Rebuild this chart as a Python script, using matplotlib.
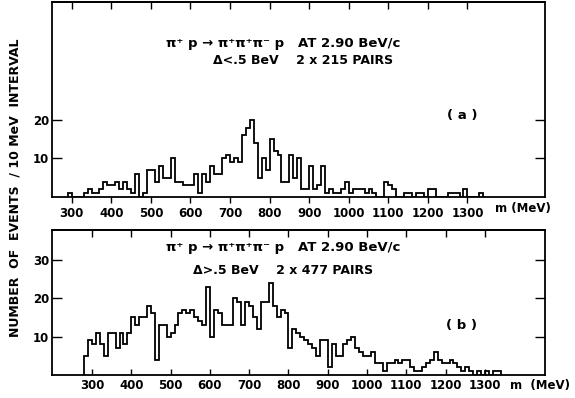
import numpy as np
import matplotlib.pyplot as plt

# counts per 10 MeV bin
bin_width = 10

a_start = 290
a_counts = [1, 0, 0, 0, 1, 2, 1, 1, 2, 4,
            3, 3, 4, 2, 4, 2, 1, 6, 0, 1,
            7, 7, 4, 8, 5, 5, 10, 4, 4, 3,
            3, 3, 6, 1, 6, 4, 8, 6, 6, 10,
            11, 9, 10, 9, 16, 18, 20, 14, 5, 10,
            7, 15, 12, 11, 4, 4, 11, 5, 10, 2,
            2, 8, 2, 3, 8, 1, 2, 1, 1, 2,
            4, 1, 2, 2, 2, 1, 2, 1, 0, 0,
            4, 3, 2, 0, 0, 1, 1, 0, 1, 1,
            0, 2, 2, 0, 0, 0, 1, 1, 1, 0,
            2, 0, 0, 0, 1]

b_start = 280
b_counts = [5, 9, 8, 11, 8, 5, 11, 11, 7, 11,
            8, 11, 15, 13, 15, 15, 18, 16, 4, 13,
            13, 10, 11, 13, 16, 17, 16, 17, 15, 14,
            13, 23, 10, 17, 16, 13, 13, 13, 20, 19,
            13, 19, 18, 15, 12, 19, 19, 24, 18, 15,
            17, 16, 7, 12, 11, 10, 9, 8, 7, 5,
            9, 9, 2, 8, 5, 5, 8, 9, 10, 7,
            6, 5, 5, 6, 3, 3, 1, 3, 3, 4,
            3, 4, 4, 2, 1, 1, 2, 3, 4, 6,
            4, 3, 3, 4, 3, 2, 1, 2, 1, 0,
            1, 0, 1, 0, 1, 1]

xticks = [300, 400, 500, 600, 700, 800, 900, 1000, 1100, 1200, 1300]
a_yticks = [10, 20]
b_yticks = [10, 20, 30]

a_title = "\u03c0\u207a p \u2192 \u03c0\u207a\u03c0\u207a\u03c0\u207b p   AT 2.90 BeV/c"
a_sub = "\u0394<.5 BeV    2 x 215 PAIRS"
b_title = "\u03c0\u207a p \u2192 \u03c0\u207a\u03c0\u207a\u03c0\u207b p   AT 2.90 BeV/c"
b_sub = "\u0394>.5 BeV    2 x 477 PAIRS"
ylabel = "NUMBER  OF  EVENTS  / 10 MeV  INTERVAL"

W, H = 575, 398
FS = 8.5
TFS = 9.5


def box(left, top, right, bottom):
    # pixel box -> figure fraction
    return [left / W, 1 - bottom / H, (right - left) / W, (bottom - top) / H]


def ftext(fig, x, y, s, ha="left", size=TFS, **kw):
    fig.text(x / W, 1 - y / H, s, ha=ha, va="center", fontsize=size,
             fontweight="bold", **kw)


def panel(fig, rect, start, counts, xlim, ylim, yticks, bottom_dir):
    ax = fig.add_axes(rect)
    edges = np.arange(start, start + bin_width * (len(counts) + 1), bin_width)
    ax.stairs(counts, edges, baseline=0, color="black", lw=1.3)
    ax.set_xlim(*xlim)
    ax.set_ylim(*ylim)
    ax.set_xticks(xticks)
    ax.set_xticklabels([str(t) for t in xticks], fontsize=FS, fontweight="bold")
    ax.set_yticks(yticks)
    ax.set_yticklabels([str(t) for t in yticks], fontsize=FS, fontweight="bold")
    ax.tick_params(axis="x", direction=bottom_dir, length=4, width=1, pad=3)
    ax.tick_params(axis="y", direction="in", length=7, width=1, right=True, pad=2)
    top = ax.secondary_xaxis("top")
    top.set_xticks(xticks)
    top.set_xticklabels([])
    top.tick_params(direction="in", length=5, width=1)
    for sp in list(ax.spines.values()) + list(top.spines.values()):
        sp.set_linewidth(1.3)
    return ax


fig = plt.figure(figsize=(W / 100, H / 100), dpi=100)

panel(fig, box(52, 2, 545, 197), a_start, a_counts, (250, 1496), (0, 50.6),
      a_yticks, "out")
panel(fig, box(52, 230, 545, 375), b_start, b_counts, (198, 1453), (0, 37.7),
      b_yticks, "in")

ftext(fig, 166, 43, a_title)
ftext(fig, 213, 61, a_sub, size=9)
ftext(fig, 462, 115, "( a )", ha="center")
ftext(fig, 495, 208, "m (MeV)", size=FS)

ftext(fig, 166, 247, b_title)
ftext(fig, 193, 270, b_sub, size=9)
ftext(fig, 461, 326, "( b )", ha="center")
ftext(fig, 510, 385, "m  (MeV)", size=FS)

fig.text(15 / W, 1 - 188 / H, ylabel, rotation=90, ha="center", va="center",
         fontsize=9, fontweight="bold")

fig.savefig("out.png", dpi=100)
